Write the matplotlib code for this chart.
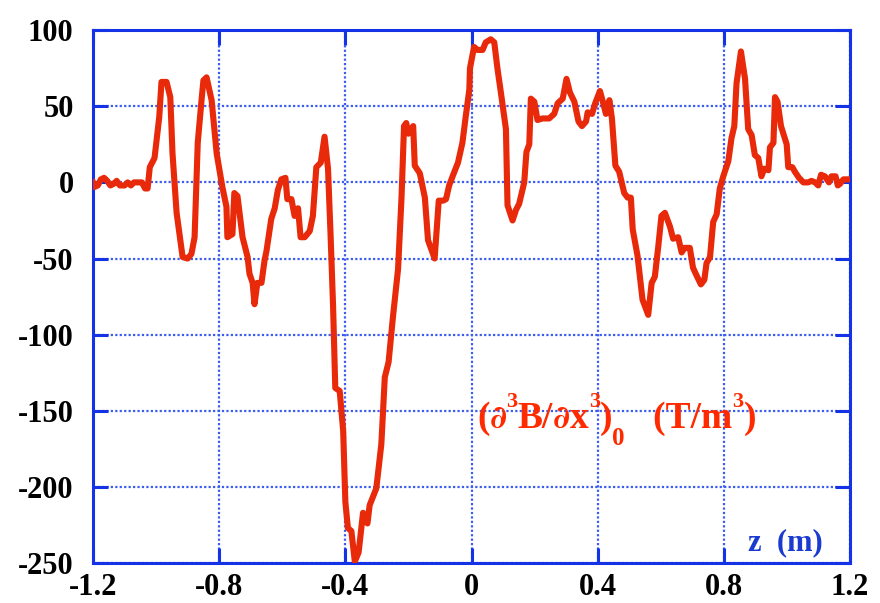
import matplotlib
matplotlib.use("Agg")
import matplotlib.pyplot as plt
from matplotlib.transforms import offset_copy

# z (m) and d3B/dx3 (T/m^3)
z = [-1.2, -1.195, -1.185, -1.175, -1.165, -1.155, -1.145, -1.135, -1.125, -1.115,
     -1.1, -1.09, -1.08, -1.07, -1.06, -1.045, -1.035, -1.027, -1.02, -1.005,
     -0.99, -0.983, -0.967, -0.955, -0.948, -0.935, -0.916, -0.9, -0.888, -0.878,
     -0.868, -0.856, -0.85, -0.84, -0.824, -0.808, -0.79, -0.777, -0.774, -0.758,
     -0.752, -0.742, -0.726, -0.71, -0.704, -0.694, -0.688, -0.679, -0.666, -0.656,
     -0.65, -0.635, -0.624, -0.614, -0.603, -0.59, -0.584, -0.571, -0.561, -0.55,
     -0.542, -0.529, -0.513, -0.503, -0.492, -0.478, -0.466, -0.455, -0.447, -0.439,
     -0.432, -0.418, -0.407, -0.4, -0.392, -0.381, -0.37, -0.358, -0.344, -0.33,
     -0.323, -0.302, -0.286, -0.275, -0.263, -0.249, -0.233, -0.222, -0.214, -0.207,
     -0.2, -0.185, -0.18, -0.164, -0.148, -0.138, -0.117, -0.104, -0.09, -0.081,
     -0.071, -0.06, -0.043, -0.029, -0.018, -0.007, -0.005, 0.008, 0.019, 0.035,
     0.045, 0.061, 0.072, 0.082, 0.093, 0.109, 0.114, 0.13, 0.141, 0.151,
     0.167, 0.174, 0.183, 0.188, 0.199, 0.209, 0.225, 0.246, 0.262, 0.273,
     0.289, 0.301, 0.312, 0.326, 0.339, 0.35, 0.363, 0.368, 0.382, 0.392,
     0.407, 0.415, 0.426, 0.437, 0.445, 0.456, 0.468, 0.484, 0.495, 0.505,
     0.511, 0.526, 0.542, 0.56, 0.571, 0.581, 0.592, 0.602, 0.613, 0.629,
     0.639, 0.655, 0.666, 0.676, 0.692, 0.702, 0.713, 0.727, 0.738, 0.745,
     0.756, 0.766, 0.777, 0.787, 0.798, 0.814, 0.824, 0.833, 0.84, 0.854,
     0.867, 0.877, 0.888, 0.898, 0.909, 0.919, 0.928, 0.941, 0.946, 0.957,
     0.962, 0.97, 0.981, 0.999, 1.004, 1.017, 1.025, 1.038, 1.052, 1.067,
     1.078, 1.089, 1.099, 1.108, 1.12, 1.133, 1.141, 1.154, 1.161, 1.168,
     1.179, 1.2]
d3b = [0, -3, -2, 2, 3, 1, -2, -1, 1, -2,
       -2, 0, -2, 0, 0, 0, -4, -4, 10, 16,
       43, 66, 66, 56, 19, -20, -49, -50, -47, -36,
       26, 54, 67, 69, 54, 19, -3, -16, -36, -34,
       -7, -9, -36, -49, -60, -66, -80, -66, -66, -51,
       -45, -24, -17, -5, 2, 3, -11, -11, -22, -17,
       -36, -36, -32, -22, 10, 13, 30, 9, -34, -81,
       -135, -137, -163, -210, -227, -229, -249, -243, -217, -224,
       -212, -201, -172, -128, -118, -88, -57, -10, 37, 39,
       32, 37, 11, 6, -10, -38, -50, -12, -12, -11,
       -2, 4, 13, 26, 44, 61, 75, 89, 87, 87,
       92, 94, 92, 75, 59, 35, -15, -25, -18, -14,
       0, 20, 25, 55, 53, 41, 42, 42, 45, 52,
       55, 68, 59, 53, 40, 37, 40, 46, 45, 52,
       60, 54, 45, 54, 42, 11, 7, -7, -10, -10,
       -31, -48, -77, -87, -66, -62, -42, -22, -20, -29,
       -37, -36, -46, -43, -43, -56, -61, -67, -64, -53,
       -49, -26, -21, -4, 4, 14, 29, 37, 65, 86,
       68, 35, 31, 18, 16, 4, 9, 8, 23, 26,
       56, 53, 37, 25, 10, 10, 7, 3, 0, 0,
       1, 0, -2, 5, 4, 0, 4, 4, -2, -1,
       2, 2]

xticks = [-1.2, -0.8, -0.4, 0, 0.4, 0.8, 1.2]
xlabels = ["-1.2", "-0.8", "-0.4", "0", "0.4", "0.8", "1.2"]
yticks = [-250, -200, -150, -100, -50, 0, 50, 100]

# label pieces: (text, font, size, vertical shift in points)
serif = 'Liberation Serif'
dejavu = 'DejaVu Serif'
label_parts = [("(", serif, 27, 0), ("∂", dejavu, 23, 0), ("3", serif, 16, 15),
               ("B/", serif, 27, 0), ("∂", dejavu, 23, 0), ("x", serif, 27, 0),
               ("3", serif, 16, 15), (")", serif, 27, 0), ("0", serif, 18, -12),
               ("   (T/m", serif, 27, 0), ("3", serif, 16, 15), (")", serif, 27, 0)]

blue = "#1432e6"
red = "#e8290a"

plt.rcParams['font.family'] = ['Liberation Serif', 'DejaVu Serif']
plt.rcParams['font.weight'] = 'bold'
plt.rcParams['axes.unicode_minus'] = False

fig = plt.figure(figsize=(8.8, 6.03), dpi=100)
ax = fig.add_axes([0.1057, 0.0663, 0.8603, 0.8837])

ax.plot(z, d3b, color=red, linewidth=4.4, zorder=3)

ax.set_xlim(-1.2, 1.2)
ax.set_ylim(-250, 100)
ax.set_xticks(xticks)
ax.set_xticklabels(xlabels)
ax.set_yticks(yticks)
ax.grid(True, color="#3a5cf0", linestyle=(0, (1, 1)), linewidth=1.6)

for s in ax.spines.values():
    s.set_color(blue)
    s.set_linewidth(2.2)
ax.tick_params(direction='in', length=11, width=2.2, color=blue,
               top=True, right=True, labelsize=22)
ax.tick_params(axis='x', pad=7)
ax.tick_params(axis='y', pad=14)

# build the red label piece by piece so scripts can be sized freely
renderer = fig.canvas.get_renderer()
dx = 0
for txt, fam, size, dy in label_parts:
    tr = offset_copy(fig.transFigure, fig=fig, x=dx, y=dy, units='points')
    t = fig.text(0.542, 0.29, txt, color="#ff2a00", fontsize=size, family=fam,
                 fontweight='bold', va='baseline', transform=tr)
    dx += t.get_window_extent(renderer).width * 72 / fig.dpi

fig.text(0.85, 0.088, 'z  (m)', color="#1a3ad0", fontsize=22,
         fontweight='bold', va='baseline')

fig.savefig("out.png", dpi=100)
